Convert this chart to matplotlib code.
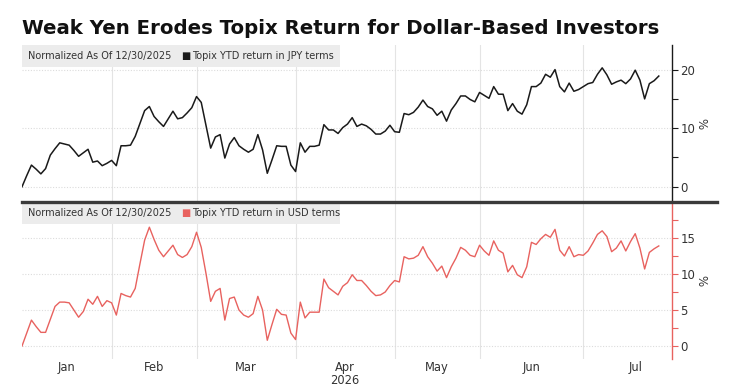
import matplotlib
matplotlib.use("Agg")
import matplotlib.pyplot as plt
from matplotlib.patches import Rectangle
from matplotlib.lines import Line2D
import numpy as np

# Japanese trading days per month, index 0 is the 12/30/2025 base day
months = ["Jan", "Feb", "Mar", "Apr", "May", "Jun", "Jul"]
trading_days = [19, 18, 21, 21, 18, 22, 22]

# Topix YTD return in JPY terms (%)
jpy = [
    0.0, 1.9, 3.7, 3.0, 2.2, 3.1, 5.4, 6.5, 7.5, 7.3,
    7.1, 6.2, 5.2, 5.8, 6.4, 4.2, 4.4, 3.6, 4.0, 4.5,
    3.6, 7.0, 7.0, 7.1, 8.6, 10.8, 13.0, 13.7, 12.0, 11.1,
    10.3, 11.6, 12.9, 11.6, 11.8, 12.6, 13.5, 15.4, 14.4, 10.5,
    6.6, 8.5, 8.9, 4.9, 7.3, 8.4, 7.0, 6.4, 5.9, 6.4,
    8.9, 6.3, 2.3, 4.6, 7.0, 6.9, 6.9, 3.7, 2.6, 7.5,
    5.9, 6.9, 6.9, 7.1, 10.6, 9.7, 9.7, 9.1, 10.1, 10.7,
    11.8, 10.3, 10.7, 10.4, 9.8, 9.0, 9.0, 9.5, 10.5, 9.4,
    9.3, 12.5, 12.3, 12.7, 13.6, 14.8, 13.7, 13.3, 12.2, 12.9,
    11.2, 13.1, 14.2, 15.5, 15.5, 14.9, 14.5, 16.1, 15.6, 15.1,
    17.1, 15.8, 15.8, 13.0, 14.2, 12.9, 12.4, 14.0, 17.1, 17.1,
    17.7, 19.2, 18.7, 20.0, 17.1, 16.2, 17.7, 16.3, 16.6, 17.1,
    17.6, 17.8, 19.2, 20.3, 19.1, 17.5, 17.9, 18.2, 17.6, 18.4,
    19.9, 18.2, 15.0, 17.6, 18.1, 18.9,
]

# Topix YTD return in USD terms (%)
usd = [
    0.0, 1.8, 3.6, 2.7, 1.9, 1.9, 3.7, 5.5, 6.1, 6.1,
    6.0, 5.0, 4.0, 4.8, 6.5, 5.8, 6.9, 5.5, 6.3, 6.0,
    4.3, 7.3, 7.0, 6.8, 8.0, 11.4, 14.7, 16.5, 14.8, 13.3,
    12.4, 13.2, 14.0, 12.7, 12.3, 12.7, 13.8, 15.8, 13.7, 10.1,
    6.2, 7.6, 8.0, 3.6, 6.6, 6.8, 5.0, 4.3, 4.0, 4.5,
    6.9, 5.0, 0.8, 3.0, 5.1, 4.4, 4.3, 1.8, 0.9, 6.1,
    3.9, 4.7, 4.7, 4.7, 9.3, 8.1, 7.6, 7.1, 8.3, 8.8,
    9.9, 9.1, 9.1, 8.4, 7.6, 7.0, 7.1, 7.5, 8.4, 9.1,
    8.9, 12.4, 12.1, 12.2, 12.6, 13.8, 12.4, 11.5, 10.4, 11.1,
    9.5, 11.0, 12.2, 13.7, 13.3, 12.6, 12.4, 14.0, 13.2, 12.6,
    14.6, 13.3, 12.9, 10.3, 11.2, 9.9, 9.5, 11.0, 14.4, 14.1,
    14.9, 15.5, 15.1, 16.2, 13.3, 12.5, 13.8, 12.4, 12.7, 12.6,
    13.2, 14.3, 15.5, 16.0, 15.2, 13.1, 13.6, 14.6, 13.2, 14.5,
    15.6, 13.6, 10.7, 13.0, 13.5, 13.9,
]

BLACK = "#1a1a1a"
RED = "#e8625f"
GRID = "#dcdcdc"
TXT = "#333333"

x = np.arange(len(jpy))
ends = np.cumsum(trading_days)
starts = np.concatenate([[0], ends[:-1]])
centers = (starts + ends) / 2
month_labels = [m + "\n2026" if m == "Apr" else m for m in months]

W, H = 741, 387
fig = plt.figure(figsize=(W / 100, H / 100), dpi=100)
ax1 = fig.add_axes([22 / W, 1 - 202 / H, 650 / W, 157 / H])
ax2 = fig.add_axes([22 / W, 1 - 359 / H, 650 / W, 157 / H])

panels = [
    (ax1, jpy, BLACK, 1.1, "Topix YTD return in JPY terms", (-2.6, 24.2), [0, 10, 20], [5, 15]),
    (ax2, usd, RED, 1.0, "Topix YTD return in USD terms", (-1.8, 20.0), [0, 5, 10, 15], [2.5, 7.5, 12.5, 17.5]),
]

for ax, vals, color, lw, name, ylim, yt, yminor in panels:
    ax.plot(x, vals, color=color, lw=lw, zorder=5)
    ax.set_xlim(0, 137.8)
    ax.set_ylim(*ylim)

    ax.set_xticks(centers, month_labels)
    ax.set_xticks(ends[:-1], minor=True)
    ax.tick_params(axis="x", which="both", length=0, labelsize=8.3, colors=TXT, pad=1.5)
    for lab in ax.get_xticklabels():
        lab.set_linespacing(1.0)
    ax.grid(which="minor", axis="x", color="#e4e4e4", lw=0.8)

    ax.set_yticks(yt)
    ax.set_yticks(yminor, minor=True)
    ax.yaxis.tick_right()
    ax.yaxis.set_label_position("right")
    ax.tick_params(axis="y", which="both", direction="out", length=4, width=0.8,
                   color=color, labelsize=8.5, labelcolor=TXT, pad=2)
    ax.grid(which="major", axis="y", color=GRID, lw=0.8, ls=(0, (1, 1.5)))
    ax.set_ylabel("%", rotation=270, fontsize=8.5, color=TXT)
    ax.yaxis.set_label_coords((707 - 22) / 650, 0.5)

    for s in ["left", "top", "bottom"]:
        ax.spines[s].set_visible(False)
    ax.spines["right"].set_color(color)
    ax.spines["right"].set_linewidth(1.0)

    # legend strip
    ax.add_patch(Rectangle((0, 1 - 22 / 157), 318 / 650, 22 / 157, transform=ax.transAxes,
                           facecolor="#ececec", edgecolor="none", zorder=3, clip_on=False))
    t1 = ax.text(6 / 650, 1 - 11 / 157, "Normalized As Of 12/30/2025", transform=ax.transAxes,
                 va="center", ha="left", fontsize=7.0, color=TXT, zorder=4)
    t2 = ax.annotate("\u25a0", xy=(1, 0.5), xycoords=t1, xytext=(7, 0), textcoords="offset points",
                     va="center", ha="left", fontsize=7.0, color=color, zorder=4)
    ax.annotate(name, xy=(1, 0.5), xycoords=t2, xytext=(1.5, 0), textcoords="offset points",
                va="center", ha="left", fontsize=7.0, color=TXT, zorder=4)

ax1.tick_params(axis="x", labelbottom=False)

# heavy separator between the panels
fig.add_artist(Line2D([22 / W, 717 / W], [1 - 202 / H] * 2, color="#3a3a3a", lw=2.4,
                      transform=fig.transFigure, zorder=10))

fig.text(22 / W, 1 - 28 / H, "Weak Yen Erodes Topix Return for Dollar-Based Investors",
         fontsize=14.2, fontweight="bold", color="#111111", ha="left", va="center")

fig.savefig("out.png", dpi=100, facecolor="white")
